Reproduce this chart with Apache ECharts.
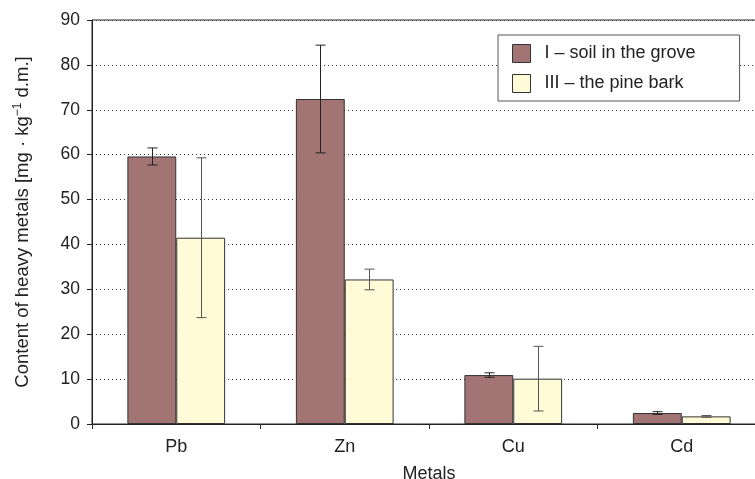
<!DOCTYPE html>
<html>
<head>
<meta charset="utf-8">
<script src="https://cdn.jsdelivr.net/npm/echarts@6/dist/echarts.min.js"></script>
<style>
html,body{margin:0;padding:0;background:#fff;overflow:hidden;width:755px;height:479px;}
#c{width:755px;height:479px;}
</style>
</head>
<body>
<div id="c"></div>
<script>
var categories = ['Pb', 'Zn', 'Cu', 'Cd'];
var soilMean = [59.6, 72.4, 10.9, 2.45];
var soilErr  = [1.9, 12.0, 0.5, 0.3];
var barkMean = [41.5, 32.2, 10.1, 1.7];
var barkErr  = [17.8, 2.3, 7.2, 0.2];
var seriesNames = ['I – soil in the grove', 'III – the pine bark'];
var yTicks = { min: 0, max: 90, interval: 10 };

var FONT = '"Liberation Sans", Arial, sans-serif';
var soilColor = '#A27474';
var barkColor = '#FFFBD7';
var gapFrac = 0.42;
var barFrac = (1 - gapFrac) / 2;

function errData(mean, err) {
  return mean.map(function (m, i) { return [i, m - err[i], m + err[i]]; });
}
function errSeries(mean, err, offset, color) {
  return {
    type: 'custom',
    data: errData(mean, err),
    encode: { x: 0, y: [1, 2] },
    z: 5,
    silent: true,
    renderItem: function (params, api) {
      var cat = api.value(0);
      var lo = api.coord([cat, api.value(1)]);
      var hi = api.coord([cat, api.value(2)]);
      var band = api.size([1, 0])[0];
      var x = Math.round(lo[0] + offset * band) + 0.5;
      var cap = 5;
      var st = { stroke: color, lineWidth: 1 };
      return {
        type: 'group',
        children: [
          { type: 'line', shape: { x1: x, y1: hi[1], x2: x, y2: lo[1] }, style: st },
          { type: 'line', shape: { x1: x - cap, y1: hi[1], x2: x + cap, y2: hi[1] }, style: st },
          { type: 'line', shape: { x1: x - cap, y1: lo[1], x2: x + cap, y2: lo[1] }, style: st }
        ]
      };
    }
  };
}

var chart = echarts.init(document.getElementById('c'), null, { renderer: 'canvas' });
chart.setOption({
  animation: false,
  backgroundColor: '#fff',
  textStyle: { fontFamily: FONT, color: '#222' },
  grid: {
    left: 92, top: 20, width: 674, bottom: 55,
    outerBoundsMode: 'none', containLabel: false,
    show: true, borderColor: '#222', borderWidth: 1, backgroundColor: 'transparent'
  },
  legend: {
    data: seriesNames,
    orient: 'vertical',
    left: 498,
    top: 35,
    icon: 'rect',
    itemWidth: 18,
    itemHeight: 18,
    itemGap: 11,
    padding: [9, 44, 8, 14],
    borderColor: '#555',
    borderWidth: 1,
    backgroundColor: '#fff',
    textStyle: { fontFamily: FONT, fontSize: 18, color: '#222', padding: [0, 0, 0, 9] },
    itemStyle: { borderColor: '#333', borderWidth: 1 }
  },
  xAxis: {
    type: 'category',
    data: categories,
    name: 'Metals',
    nameLocation: 'middle',
    nameGap: 41,
    nameTextStyle: { fontFamily: FONT, fontSize: 18, color: '#222' },
    axisLine: { lineStyle: { color: '#222', width: 1 } },
    axisTick: { show: true, length: 5, lineStyle: { color: '#222' } },
    axisLabel: { fontFamily: FONT, fontSize: 18, color: '#222', margin: 14 },
    splitLine: { show: false }
  },
  yAxis: {
    type: 'value',
    min: yTicks.min,
    max: yTicks.max,
    interval: yTicks.interval,
    name: 'Content of heavy metals [mg · kg{sup|−1} d.m.]',
    nameLocation: 'middle',
    nameGap: 59,
    nameTextStyle: {
      fontFamily: FONT, fontSize: 18.5, color: '#222',
      rich: { sup: { fontFamily: FONT, fontSize: 12, color: '#222', verticalAlign: 'top', padding: [0, 0, 9, 0] } }
    },
    axisLine: { show: true, lineStyle: { color: '#222', width: 1 } },
    axisTick: { show: true, length: 5, lineStyle: { color: '#222' } },
    axisLabel: { fontFamily: FONT, fontSize: 17.5, color: '#222', margin: 12 },
    splitLine: { show: true, lineStyle: { color: '#333', type: [1, 3], width: 1 } }
  },
  series: [
    {
      name: seriesNames[0],
      type: 'bar',
      data: soilMean,
      barGap: '0%',
      barCategoryGap: (gapFrac * 100) + '%',
      itemStyle: { color: soilColor, borderColor: '#333', borderWidth: 1 },
      z: 2
    },
    {
      name: seriesNames[1],
      type: 'bar',
      data: barkMean,
      barGap: '0%',
      barCategoryGap: (gapFrac * 100) + '%',
      itemStyle: { color: barkColor, borderColor: '#333', borderWidth: 1 },
      z: 2
    },
    errSeries(soilMean, soilErr, -barFrac / 2, '#222'),
    errSeries(barkMean, barkErr, barFrac / 2, '#555')
  ]
});
</script>
</body>
</html>
